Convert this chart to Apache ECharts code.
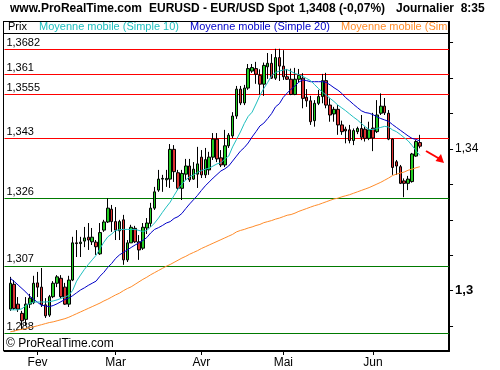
<!DOCTYPE html>
<html><head><meta charset="utf-8">
<script src="https://cdn.jsdelivr.net/npm/echarts@6/dist/echarts.min.js"></script>
<style>html,body{margin:0;padding:0;background:#fff}#c{width:500px;height:370px}</style>
</head><body><div id="c"></div>
<script>
const dates = [
"2007-01-23","2007-01-24","2007-01-25","2007-01-26","2007-01-29","2007-01-30","2007-01-31",
"2007-02-01","2007-02-02","2007-02-05","2007-02-06","2007-02-07","2007-02-08","2007-02-09","2007-02-12","2007-02-13","2007-02-14","2007-02-15","2007-02-16","2007-02-19","2007-02-20","2007-02-21","2007-02-22","2007-02-23","2007-02-26","2007-02-27","2007-02-28",
"2007-03-01","2007-03-02","2007-03-05","2007-03-06","2007-03-07","2007-03-08","2007-03-09","2007-03-12","2007-03-13","2007-03-14","2007-03-15","2007-03-16","2007-03-19","2007-03-20","2007-03-21","2007-03-22","2007-03-23","2007-03-26","2007-03-27","2007-03-28","2007-03-29","2007-03-30",
"2007-04-02","2007-04-03","2007-04-04","2007-04-05","2007-04-06","2007-04-09","2007-04-10","2007-04-11","2007-04-12","2007-04-13","2007-04-16","2007-04-17","2007-04-18","2007-04-19","2007-04-20","2007-04-23","2007-04-24","2007-04-25","2007-04-26","2007-04-27","2007-04-30",
"2007-05-01","2007-05-02","2007-05-03","2007-05-04","2007-05-07","2007-05-08","2007-05-09","2007-05-10","2007-05-11","2007-05-14","2007-05-15","2007-05-16","2007-05-17","2007-05-18","2007-05-21","2007-05-22","2007-05-23","2007-05-24","2007-05-25","2007-05-28","2007-05-29","2007-05-30","2007-05-31",
"2007-06-01","2007-06-04","2007-06-05","2007-06-06","2007-06-07","2007-06-08","2007-06-11","2007-06-12","2007-06-13","2007-06-14","2007-06-15","2007-06-18","2007-06-19"];

const opens = [1.2948,1.3018,1.2962,1.2936,1.2919,1.2962,1.2966,1.3022,1.3010,1.2960,1.2931,1.2983,1.3021,1.3035,1.3010,1.2962,1.3030,1.3135,1.3133,1.3140,1.3151,1.3138,1.3137,1.3104,1.3171,1.3194,1.3230,1.3195,1.3169,1.3200,1.3087,1.3135,1.3176,1.3138,1.3120,1.3177,1.3190,1.3233,1.3284,1.3315,1.3313,1.3315,1.3399,1.3333,1.3289,1.3329,1.3352,1.3315,1.3329,1.3377,1.3327,1.3341,1.3377,1.3428,1.3375,1.3355,1.3409,1.3437,1.3493,1.3569,1.3530,1.3572,1.3620,1.3627,1.3608,1.3583,1.3632,1.3642,1.3600,1.3658,1.3634,1.3604,1.3597,1.3554,1.3597,1.3600,1.3546,1.3536,1.3480,1.3529,1.3548,1.3593,1.3524,1.3499,1.3512,1.3468,1.3456,1.3454,1.3424,1.3449,1.3458,1.3456,1.3430,1.3459,1.3449,1.3501,1.3521,1.3501,1.3428,1.3364,1.3350,1.3310,1.3303,1.3308,1.3380,1.3418];
const closes = [1.3021,1.2950,1.2948,1.2915,1.2962,1.2979,1.3021,1.3010,1.2960,1.2929,1.2983,1.3021,1.3039,1.2983,1.2962,1.3030,1.3135,1.3133,1.3137,1.3149,1.3143,1.3151,1.3124,1.3164,1.3194,1.3233,1.3195,1.3171,1.3195,1.3087,1.3135,1.3179,1.3138,1.3115,1.3179,1.3191,1.3233,1.3279,1.3315,1.3317,1.3317,1.3399,1.3336,1.3289,1.3331,1.3352,1.3313,1.3343,1.3358,1.3327,1.3370,1.3377,1.3428,1.3372,1.3355,1.3409,1.3439,1.3493,1.3569,1.3530,1.3572,1.3627,1.3630,1.3611,1.3583,1.3636,1.3642,1.3600,1.3658,1.3634,1.3604,1.3597,1.3554,1.3597,1.3608,1.3543,1.3536,1.3477,1.3529,1.3548,1.3593,1.3524,1.3496,1.3512,1.3468,1.3449,1.3451,1.3424,1.3452,1.3458,1.3433,1.3430,1.3454,1.3431,1.3496,1.3521,1.3502,1.3428,1.3348,1.3352,1.3303,1.3303,1.3315,1.3386,1.3421,1.3408];
const lows = [1.2943,1.2946,1.2940,1.2889,1.2903,1.2951,1.2962,1.2982,1.2954,1.2923,1.2926,1.2979,1.3010,1.2979,1.2960,1.2954,1.3027,1.3095,1.3095,1.3123,1.3115,1.3129,1.3101,1.3101,1.3166,1.3191,1.3166,1.3143,1.3143,1.3073,1.3081,1.3135,1.3135,1.3087,1.3115,1.3160,1.3180,1.3228,1.3279,1.3279,1.3293,1.3290,1.3307,1.3284,1.3256,1.3313,1.3307,1.3313,1.3290,1.3318,1.3318,1.3327,1.3369,1.3363,1.3349,1.3349,1.3403,1.3431,1.3485,1.3524,1.3524,1.3567,1.3615,1.3584,1.3554,1.3550,1.3598,1.3598,1.3595,1.3592,1.3595,1.3595,1.3552,1.3552,1.3589,1.3515,1.3519,1.3468,1.3463,1.3524,1.3529,1.3515,1.3477,1.3477,1.3440,1.3440,1.3416,1.3416,1.3411,1.3442,1.3425,1.3421,1.3425,1.3394,1.3445,1.3496,1.3496,1.3425,1.3327,1.3327,1.3301,1.3264,1.3284,1.3305,1.3378,1.3402];
const highs = [1.3039,1.3030,1.2982,1.2943,1.2982,1.2991,1.3042,1.3053,1.3064,1.2979,1.2988,1.3027,1.3044,1.3044,1.3022,1.3042,1.3152,1.3171,1.3152,1.3180,1.3191,1.3177,1.3143,1.3191,1.3200,1.3261,1.3242,1.3236,1.3200,1.3214,1.3143,1.3186,1.3183,1.3157,1.3191,1.3205,1.3248,1.3293,1.3341,1.3327,1.3341,1.3414,1.3411,1.3341,1.3341,1.3372,1.3372,1.3363,1.3406,1.3397,1.3403,1.3392,1.3445,1.3445,1.3397,1.3454,1.3445,1.3504,1.3578,1.3578,1.3581,1.3640,1.3640,1.3646,1.3625,1.3644,1.3671,1.3668,1.3683,1.3683,1.3679,1.3626,1.3627,1.3629,1.3626,1.3614,1.3569,1.3550,1.3538,1.3567,1.3612,1.3615,1.3543,1.3519,1.3524,1.3480,1.3463,1.3468,1.3458,1.3463,1.3496,1.3463,1.3477,1.3502,1.3538,1.3557,1.3544,1.3510,1.3430,1.3369,1.3355,1.3317,1.3324,1.3389,1.3425,1.3440];

const sma10 = [1.2946,1.2946,1.2946,1.2949,1.2958,1.2964,1.2968,1.2968,1.2968,1.2968,1.2969,1.2971,1.2974,1.2978,1.2982,1.2987,1.3001,1.3027,1.3044,1.3060,1.3074,1.3087,1.3100,1.3119,1.3137,1.3152,1.3160,1.3170,1.3172,1.3173,1.3173,1.3173,1.3173,1.3170,1.3167,1.3170,1.3180,1.3191,1.3205,1.3221,1.3236,1.3250,1.3269,1.3287,1.3301,1.3313,1.3322,1.3327,1.3334,1.3339,1.3343,1.3346,1.3352,1.3358,1.3361,1.3372,1.3380,1.3406,1.3427,1.3448,1.3472,1.3492,1.3504,1.3527,1.3551,1.3571,1.3588,1.3607,1.3616,1.3620,1.3623,1.3624,1.3619,1.3613,1.3610,1.3605,1.3599,1.3593,1.3582,1.3571,1.3561,1.3552,1.3543,1.3534,1.3524,1.3516,1.3508,1.3499,1.3490,1.3482,1.3472,1.3463,1.3455,1.3455,1.3458,1.3461,1.3464,1.3462,1.3454,1.3449,1.3441,1.3432,1.3423,1.3410,1.3396,1.3382];
const sma20 = [1.3035,1.3026,1.3016,1.3006,1.2996,1.2984,1.2976,1.2967,1.2959,1.2957,1.2955,1.2958,1.2963,1.2969,1.2975,1.2979,1.2986,1.2994,1.3002,1.3008,1.3015,1.3021,1.3027,1.3041,1.3052,1.3066,1.3077,1.3091,1.3101,1.3108,1.3115,1.3122,1.3129,1.3135,1.3142,1.3150,1.3163,1.3173,1.3178,1.3184,1.3191,1.3195,1.3204,1.3209,1.3218,1.3232,1.3245,1.3257,1.3269,1.3283,1.3296,1.3307,1.3318,1.3328,1.3338,1.3344,1.3352,1.3366,1.3380,1.3394,1.3404,1.3417,1.3434,1.3449,1.3465,1.3473,1.3486,1.3500,1.3519,1.3528,1.3546,1.3558,1.3569,1.3578,1.3589,1.3595,1.3593,1.3590,1.3590,1.3590,1.3590,1.3588,1.3581,1.3573,1.3566,1.3557,1.3545,1.3536,1.3526,1.3517,1.3508,1.3503,1.3501,1.3497,1.3491,1.3486,1.3482,1.3478,1.3469,1.3461,1.3453,1.3445,1.3437,1.3430,1.3427,1.3423];
const smaLong = [1.2884,1.2886,1.2889,1.2891,1.2893,1.2896,1.2898,1.2901,1.2904,1.2907,1.2910,1.2912,1.2915,1.2918,1.2921,1.2925,1.2930,1.2935,1.2940,1.2945,1.2950,1.2955,1.2960,1.2965,1.2971,1.2976,1.2982,1.2988,1.2993,1.3000,1.3006,1.3011,1.3018,1.3025,1.3032,1.3038,1.3045,1.3051,1.3057,1.3063,1.3069,1.3074,1.3080,1.3086,1.3092,1.3097,1.3103,1.3108,1.3113,1.3119,1.3124,1.3129,1.3134,1.3139,1.3144,1.3149,1.3154,1.3159,1.3166,1.3170,1.3173,1.3177,1.3180,1.3184,1.3187,1.3192,1.3195,1.3198,1.3202,1.3205,1.3209,1.3213,1.3215,1.3219,1.3224,1.3228,1.3232,1.3236,1.3240,1.3243,1.3247,1.3251,1.3255,1.3259,1.3261,1.3265,1.3268,1.3271,1.3275,1.3279,1.3283,1.3287,1.3291,1.3296,1.3301,1.3306,1.3312,1.3318,1.3325,1.3329,1.3332,1.3335,1.3340,1.3343,1.3347,1.3350];

const redLevels = [1.3682, 1.361, 1.3555, 1.343];
const greenLevels = [1.326, 1.307, 1.288];
const yTicks = [1.29, 1.30, 1.31, 1.32, 1.33, 1.34, 1.35, 1.36, 1.37];
const yLabels = [1.30, 1.34];
const monthLabels = {"2007-02-01":"Fev","2007-03-01":"Mar","2007-04-02":"Avr","2007-05-01":"Mai","2007-06-01":"Jun"};
const legendItems = [
  {text:"Prix", color:"#000000", x:8},
  {text:"Moyenne mobile (Simple 10)", color:"#1fbfbf", x:39},
  {text:"Moyenne mobile (Simple 20)", color:"#0000c8", x:190},
  {text:"Moyenne mobile (Simple 100)", color:"#ff8c2a", x:341}
];

const FONT = '"Liberation Sans", Arial, sans-serif';
const LEAD = 1, TRAIL = 7;
const pad = (arr) => Array(LEAD).fill('-').concat(arr, Array(TRAIL).fill('-'));
const cats = Array.from({length: LEAD}, (_, i) => 'lead' + i)
  .concat(dates, Array.from({length: TRAIL}, (_, i) => 'trail' + i));
const candles = dates.map((d, i) => [opens[i], closes[i], lows[i], highs[i]]);
const fmt = v => String(v).replace('.', ',');

const levelLines = redLevels.map(v => ({yAxis: v, lineStyle: {color: '#ff0000'}, label: {formatter: fmt(v)}}))
  .concat(greenLevels.map(v => ({yAxis: v, lineStyle: {color: '#007a00'}, label: {formatter: fmt(v)}})));

const chart = echarts.init(document.getElementById('c'), null, {renderer: 'canvas'});
chart.setOption({
  animation: false,
  backgroundColor: '#ffffff',
  textStyle: {fontFamily: FONT},
  grid: {left: 4.45, right: 50.95, top: 33, bottom: 19, containLabel: false},
  xAxis: {
    type: 'category', data: cats, boundaryGap: true,
    axisLine: {show: true, lineStyle: {color: '#000', width: 2}},
    axisTick: {show: true, alignWithLabel: true, length: 4, lineStyle: {color: '#000'},
      interval: (i, v) => monthLabels[v] !== undefined},
    axisLabel: {interval: (i, v) => monthLabels[v] !== undefined, formatter: v => monthLabels[v] || '',
      color: '#000', fontSize: 12, fontFamily: FONT, margin: 6},
    splitLine: {show: false}
  },
  yAxis: {
    type: 'value', position: 'right', min: 1.28297, max: 1.37275, scale: true,
    axisLine: {show: true, lineStyle: {color: '#000', width: 2}},
    axisTick: {show: true, length: 4, lineStyle: {color: '#000'}, customValues: yTicks},
    axisLabel: {customValues: yLabels, color: '#000', fontSize: 12, fontFamily: FONT, margin: 6,
      formatter: v => Math.abs(v - 1.3) < 1e-9 ? '{b|1,3}' : fmt(v),
      rich: {b: {fontWeight: 'bold', fontSize: 13, fontFamily: FONT, color: '#000'}}},
    splitLine: {show: false}
  },
  series: [
    {
      type: 'candlestick', data: pad(candles), barWidth: 3, z: 3,
      itemStyle: {color: '#22cc22', color0: '#dd3333', borderColor: '#000', borderColor0: '#000', borderWidth: 1},
      markLine: {
        silent: true, symbol: 'none', animation: false, z: 1, precision: 5,
        lineStyle: {type: 'solid', width: 1},
        label: {show: true, position: 'insideStartTop', distance: [2, 1], color: '#000', fontSize: 11, fontFamily: FONT},
        data: levelLines
      }
    },
    {type: 'line', data: pad(smaLong), symbol: 'none', z: 4, lineStyle: {color: '#ff8c2a', width: 1}},
    {type: 'line', data: pad(sma20), symbol: 'none', z: 5, lineStyle: {color: '#0000c8', width: 1}},
    {type: 'line', data: pad(sma10), symbol: 'none', z: 6, lineStyle: {color: '#1fbfbf', width: 1}}
  ],
  graphic: [
    {type: 'text', x: 10, y: 9, style: {text: 'www.ProRealTime.com', font: 'bold 12px ' + FONT, fill: '#000', verticalAlign: 'middle'}},
    {type: 'text', x: 149, y: 9, style: {text: 'EURUSD - EUR/USD Spot', font: 'bold 12px ' + FONT, fill: '#000', verticalAlign: 'middle'}},
    {type: 'text', x: 299, y: 9, style: {text: '1,3408 (-0,07%)', font: 'bold 12px ' + FONT, fill: '#000', verticalAlign: 'middle'}},
    {type: 'text', x: 396, y: 9, style: {text: 'Journalier  8:35', font: 'bold 12px ' + FONT, fill: '#000', verticalAlign: 'middle'}},
    ...legendItems.map(it => ({type: 'text', x: it.x, y: 27, z: 10, style: {text: it.text, font: '11px ' + FONT, fill: it.color, verticalAlign: 'middle'}})),
    {type: 'rect', z: 11, shape: {x: 448, y: 21, width: 52, height: 12}, style: {fill: '#fff'}},
    {type: 'line', z: 12, shape: {x1: 3, y1: 21.5, x2: 449, y2: 21.5}, style: {stroke: '#000', lineWidth: 1}},
    {type: 'line', z: 12, shape: {x1: 3, y1: 33.5, x2: 449, y2: 33.5}, style: {stroke: '#000', lineWidth: 1}},
    {type: 'line', z: 12, shape: {x1: 3.5, y1: 21, x2: 3.5, y2: 351}, style: {stroke: '#000', lineWidth: 1}},
    {type: 'line', z: 12, shape: {x1: 449, y1: 21, x2: 449, y2: 33}, style: {stroke: '#000', lineWidth: 2}},
    {type: 'text', x: 6, y: 344, z: 10, style: {text: '\u00a9 ProRealTime.com', font: '12px ' + FONT, fill: '#000', verticalAlign: 'middle'}},
    {type: 'line', z: 12, shape: {x1: 426, y1: 151, x2: 439, y2: 158.5}, style: {stroke: '#ff0000', lineWidth: 2}},
    {type: 'polygon', z: 12, shape: {points: [[444, 163], [435.5, 161], [441, 154]]}, style: {fill: '#ff0000'}}
  ]
});
</script></body></html>
